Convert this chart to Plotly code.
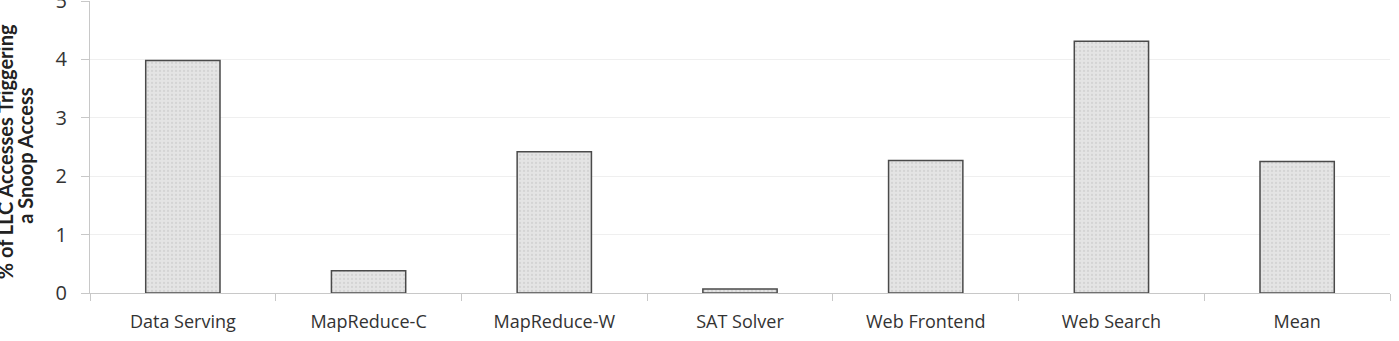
import plotly.graph_objects as go

categories = ["Data Serving", "MapReduce-C", "MapReduce-W", "SAT Solver",
              "Web Frontend", "Web Search", "Mean"]
values = [3.98, 0.38, 2.42, 0.07, 2.27, 4.31, 2.25]
y_ticks = [0, 1, 2, 3, 4, 5]
title_lines = ["% of LLC Accesses Triggering", "a Snoop Access"]

fig = go.Figure(go.Bar(
    x=categories, y=values,
    width=0.4,
    marker=dict(
        color="#e2e2e2",
        line=dict(color="#4a4a4a", width=1.5),
        pattern=dict(shape=".", fgcolor="#c4c4c4", bgcolor="#e4e4e4", size=4, solidity=0.25),
    ),
))

title_font = dict(size=20, color="#222222", family="Lato, Open Sans, sans-serif")
fig.update_layout(
    width=1399, height=341,
    margin=dict(l=90, r=9, t=1, b=48, autoexpand=False),
    paper_bgcolor="white", plot_bgcolor="white",
    showlegend=False,
    font=dict(family="Open Sans, sans-serif", color="#333333"),
    annotations=[
        dict(text="<b>" + title_lines[0] + "</b>", textangle=-90, xref="paper", yref="paper",
             x=-0.0654, y=0.485, xanchor="center", yanchor="middle",
             showarrow=False, font=title_font),
        dict(text="<b>" + title_lines[1] + "</b>", textangle=-90, xref="paper", yref="paper",
             x=-0.0495, y=0.472, xanchor="center", yanchor="middle",
             showarrow=False, font=title_font),
    ],
)
fig.update_xaxes(
    type="category", tickson="boundaries", ticks="outside", ticklen=7,
    tickcolor="#c8c8c8", showline=True, linecolor="#c8c8c8", linewidth=1,
    tickfont=dict(size=18, color="#333333", family="Open Sans, sans-serif"),
    showgrid=False, ticklabelstandoff=12, automargin=False,
)
fig.update_yaxes(
    range=[0, 5], tickvals=y_ticks, ticks="outside", ticklen=8, tickcolor="#c8c8c8",
    showline=True, linecolor="#c8c8c8", linewidth=1,
    showgrid=True, gridcolor="#efefef", gridwidth=1, zeroline=False,
    tickfont=dict(size=20, color="#333333", family="Open Sans, sans-serif"),
    ticklabelstandoff=10, ticklabeloverflow="allow", automargin=False,
)

fig.write_html("out.html")
